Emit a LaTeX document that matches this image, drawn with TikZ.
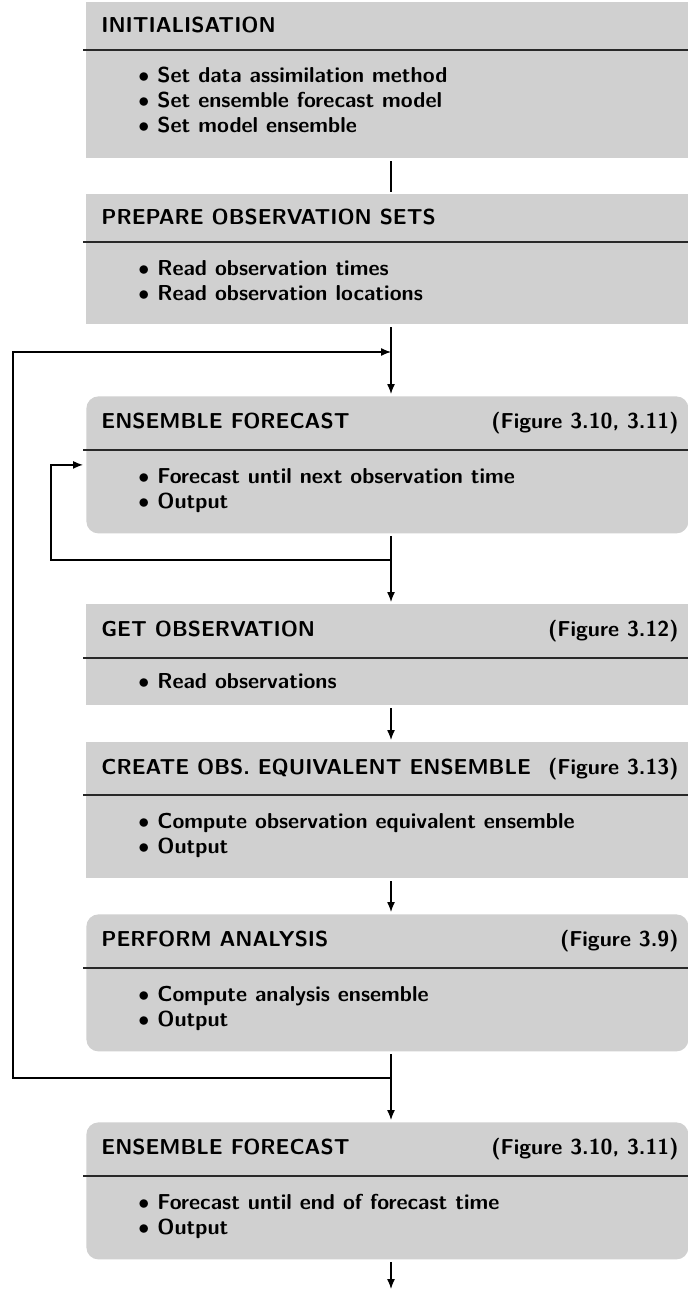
\documentclass[tikz,border=0pt]{standalone}
\usetikzlibrary{arrows.meta}
\definecolor{boxgray}{RGB}{208,208,208}
\definecolor{rulegray}{RGB}{40,40,40}
\tikzset{
  x=0.5pt, y=-0.5pt,
  panel/.style={fill=boxgray, draw=none, anchor=north west, inner sep=0pt,
    minimum width=301pt, minimum height=#1},
  roundpanel/.style={panel=#1, rounded corners=6pt},
  headtext/.style={anchor=base west, inner sep=0pt,
    font=\sffamily\bfseries\fontsize{10.8}{12.5}\selectfont},
  reftext/.style={headtext, anchor=base east},
  itemtext/.style={headtext},
  divider/.style={draw=rulegray, line width=0.65pt},
  link/.style={draw=black, line width=0.65pt, shorten <=1.2pt, shorten >=1pt},
  flow/.style={link, -{Latex[length=5pt,width=4pt]}},
}
% one bullet line: \bulletline{name}{y}{text}
\newcommand{\bulletline}[3]{%
  \node[itemtext] (#1b) at (138,#2) {$\bullet$};
  \node[itemtext] (#1) at (157,#2) {#3};}
\begin{document}
\begin{tikzpicture}
\useasboundingbox (0,0) rectangle (688,1289);

% ---------- panels ----------
\node[panel=78pt]       (init)   at (86,2)    {};
\node[panel=65pt]       (prep)   at (86,194)  {};
\node[roundpanel=68.5pt] (ef1)   at (86,396)  {};
\node[panel=50.5pt]     (get)    at (86,604)  {};
\node[panel=68pt]       (create) at (86,742)  {};
\node[roundpanel=68.5pt] (perf)  at (86,914)  {};
\node[roundpanel=68.5pt] (ef2)   at (86,1122) {};

% ---------- header rules ----------
\draw[divider] (83,50)   -- (688,50);
\draw[divider] (83,242)  -- (688,242);
\draw[divider] (83,450)  -- (688,450);
\draw[divider] (83,658)  -- (688,658);
\draw[divider] (83,795)  -- (688,795);
\draw[divider] (83,968)  -- (688,968);
\draw[divider] (83,1176) -- (688,1176);

% ---------- texts ----------
\node[headtext] (initH) at (101,33) {INITIALISATION};
\bulletline{initA}{83}{Set data assimilation method}
\bulletline{initB}{108}{Set ensemble forecast model}
\bulletline{initC}{133}{Set model ensemble}

\node[headtext] (prepH) at (101,225) {PREPARE OBSERVATION SETS};
\bulletline{prepA}{275}{Read observation times}
\bulletline{prepB}{300}{Read observation locations}

\node[headtext] (efaH) at (101,428) {ENSEMBLE FORECAST};
\node[reftext]  (efaR) at (679,428) {(Figure 3.10, 3.11)};
\bulletline{efaA}{483}{Forecast until next observation time}
\bulletline{efaB}{508}{Output}

\node[headtext] (getH) at (101,636) {GET OBSERVATION};
\node[reftext]  (getR) at (679,636) {(Figure 3.12)};
\bulletline{getA}{688}{Read observations}

\node[headtext] (crH) at (101,774) {CREATE OBS. EQUIVALENT ENSEMBLE};
\node[reftext]  (crR) at (679,774) {(Figure 3.13)};
\bulletline{crA}{828}{Compute observation equivalent ensemble}
\bulletline{crB}{853}{Output}

\node[headtext] (pfH) at (101,946) {PERFORM ANALYSIS};
\node[reftext]  (pfR) at (679,946) {(Figure 3.9)};
\bulletline{pfA}{1001}{Compute analysis ensemble}
\bulletline{pfB}{1026}{Output}

\node[headtext] (efbH) at (101,1154) {ENSEMBLE FORECAST};
\node[reftext]  (efbR) at (679,1154) {(Figure 3.10, 3.11)};
\bulletline{efbA}{1209}{Forecast until end of forecast time}
\bulletline{efbB}{1234}{Output}

% ---------- connectors ----------
\coordinate (spine)   at (391,0);
\coordinate (backin)  at (391,352);
\coordinate (backout) at (391,1078);
\coordinate (loopout) at (391,560);
\coordinate (finish)  at (391,1289);

\draw[link] (init.south -| spine) -- (prep.north -| spine);
\draw[flow] (prep.south -| spine) -- (ef1.north -| spine);
\draw[flow] (ef1.south -| spine)  -- (get.north -| spine);
\draw[flow] (get.south -| spine)  -- (create.north -| spine);
\draw[flow] (create.south -| spine) -- (perf.north -| spine);
\draw[flow] (perf.south -| spine) -- (ef2.north -| spine);
\draw[flow, shorten >=0pt] (ef2.south -| spine) -- (finish);

% inner loop: next observation time
\draw[flow, shorten <=0pt, shorten >=1.5pt] (loopout) -- ++(-340,0) |- (ef1.west);
% outer loop: back to the next forecast cycle
\draw[flow, shorten <=0pt, shorten >=0pt] (backout) -- ++(-378,0) |- (backin);
\end{tikzpicture}
\end{document}
